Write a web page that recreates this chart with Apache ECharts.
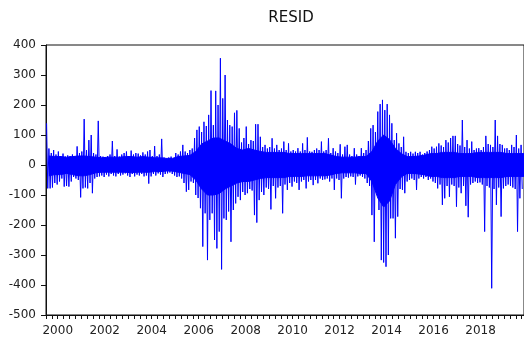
<!DOCTYPE html>
<html><head><meta charset="utf-8">
<script src="https://cdn.jsdelivr.net/npm/echarts@6/dist/echarts.min.js"></script>
<style>html,body{margin:0;padding:0;background:#fff}#c{width:524px;height:343px}</style>
</head><body><div id="c"></div>
<script>
const chartTitle = "RESID";
const yMin = -500, yMax = 400, yStep = 100;
const yearLabels = [2000, 2002, 2004, 2006, 2008, 2010, 2012, 2014, 2016, 2018];
// observations grouped into periods of 0.1 year starting at 2000.0
const periodStart = 2000.0;
const periodWidth = 0.1;
// highest residual per period
const highs = [
139,55,40,50,35,45,30,38,28,32,30,35,28,62,40,45,153,50,83,100,
40,35,147,30,28,25,30,35,80,30,52,28,35,40,45,30,48,35,40,38,
32,42,35,45,50,30,63,30,35,87,25,22,25,28,22,40,35,45,67,45,
40,50,55,90,117,128,110,144,130,167,248,133,247,200,356,222,300,150,133,128,
174,182,122,75,90,128,70,83,80,136,136,94,60,67,55,60,89,55,67,50,
55,78,50,72,45,50,45,56,45,72,50,92,45,44,50,55,50,78,45,50,
89,40,56,45,40,69,35,61,67,35,30,56,35,30,56,40,50,80,122,133,
110,178,203,217,183,203,167,139,83,106,72,60,94,44,40,44,38,44,40,44,
35,40,45,50,61,55,61,72,65,60,83,75,90,97,97,70,65,150,60,83,
55,78,50,55,56,50,60,97,70,67,60,150,97,70,67,55,56,50,67,60,
100,55,67
];
// lowest residual per period
const lows = [
-78,-78,-75,-60,-65,-55,-45,-72,-70,-72,-55,-40,-45,-50,-108,-78,-75,-78,-60,-94,
-45,-40,-38,-35,-40,-32,-38,-30,-35,-38,-30,-35,-32,-28,-35,-40,-30,-38,-32,-35,
-30,-38,-35,-62,-38,-30,-35,-28,-32,-40,-30,-28,-25,-30,-35,-40,-38,-45,-60,-89,
-83,-55,-60,-100,-110,-144,-272,-161,-317,-183,-161,-250,-278,-222,-348,-178,-183,-155,-256,-150,
-128,-106,-117,-90,-100,-94,-80,-85,-167,-192,-117,-90,-100,-75,-80,-148,-70,-111,-75,-70,
-161,-65,-83,-60,-72,-55,-60,-83,-55,-50,-78,-55,-50,-67,-50,-61,-45,-50,-48,-45,
-55,-45,-83,-45,-50,-111,-45,-40,-42,-38,-40,-65,-38,-35,-40,-45,-60,-70,-167,-256,
-78,-150,-317,-325,-339,-300,-178,-178,-244,-172,-80,-83,-94,-55,-50,-45,-50,-83,-45,-40,
-45,-40,-50,-45,-55,-60,-78,-65,-133,-111,-70,-106,-65,-70,-139,-75,-94,-70,-136,-174,
-65,-60,-55,-60,-58,-65,-222,-70,-75,-411,-80,-133,-75,-172,-78,-70,-65,-70,-75,-80,
-222,-111,-80
];
// dense (solid) part of the residual band per quarter, from 2000Q1
const coreStart = 2000.0;
const coreWidth = 0.25;
const coreHigh = [
30,28,28,26, 28,30,30,28, 26,24,26,26, 26,28,28,26, 28,26,24,24,
22,22,28,30, 32,45,70,80, 90,90,80,70, 55,50,55,50, 45,42,42,42,
42,38,38,38, 38,38,38,38, 33,28,26,26, 26,28,28,45, 80,100,85,55,
38,28,28,30, 33,38,38,42, 42,42,38,38, 38,42,42,42, 42,42,38,38,
38,38
];
const coreLow = [
-36,-32,-32,-28, -32,-36,-36,-32, -26,-24,-24,-24, -24,-24,-26,-24, -24,-24,-22,-22,
-20,-20,-24,-28, -32,-50,-80,-100, -100,-95,-80,-70, -60,-55,-55,-50, -45,-42,-42,-42,
-42,-38,-38,-38, -36,-36,-36,-36, -33,-28,-26,-26, -26,-28,-28,-55, -110,-140,-120,-65,
-40,-28,-28,-30, -33,-38,-38,-42, -42,-42,-38,-38, -38,-42,-42,-42, -42,-42,-38,-38,
-38,-38
];

const seriesData = [];
for (let k = 0; k < highs.length; k++) {
  const t = periodStart + periodWidth * k;
  seriesData.push([t + periodWidth * 0.25, highs[k]]);
  seriesData.push([t + periodWidth * 0.75, lows[k]]);
}
const coreHiData = coreHigh.map((v, q) => [coreStart + coreWidth * (q + 0.5), v]);
const coreLoData = coreLow.map((v, q) => [coreStart + coreWidth * (q + 0.5), v]);
const quarterTicks = [];
for (let q = 0; q <= 81; q++) quarterTicks.push(2000 + q * 0.25);

const chart = echarts.init(document.getElementById('c'), null, {renderer: 'canvas'});
const font = '"DejaVu Sans", sans-serif';
const blue = '#0000ff';
const coreSeries = (data) => ({
  type: 'line', data: data, showSymbol: false, symbol: 'none', smooth: false,
  clip: true, lineStyle: {color: blue, width: 1},
  areaStyle: {color: blue, opacity: 1, origin: 0}
});
chart.setOption({
  animation: false,
  backgroundColor: '#fff',
  title: {
    text: chartTitle, left: 286, top: 6, textAlign: 'center',
    textStyle: {fontFamily: font, fontSize: 15, fontWeight: 'normal', color: '#111'}
  },
  grid: {left: 46, right: -1, top: 45, bottom: 28, show: true, borderColor: '#111', borderWidth: 1, containLabel: false},
  xAxis: {
    type: 'value', min: 2000, max: 2020.35,
    axisLine: {show: true, onZero: false, lineStyle: {color: '#111', width: 1}},
    axisTick: {show: true, inside: false, length: 4, customValues: quarterTicks, lineStyle: {color: '#111'}},
    axisLabel: {
      customValues: yearLabels.map(y => y + 0.5),
      formatter: v => String(Math.round(v - 0.5)),
      fontFamily: font, fontSize: 12, color: '#222', margin: 10
    },
    splitLine: {show: false}
  },
  yAxis: {
    type: 'value', min: yMin, max: yMax, interval: yStep,
    axisLine: {show: true, onZero: false, lineStyle: {color: '#111', width: 1}},
    axisTick: {show: true, inside: false, length: 5, lineStyle: {color: '#111'}},
    axisLabel: {fontFamily: font, fontSize: 12, color: '#222', margin: 10},
    splitLine: {show: false}
  },
  series: [
    coreSeries(coreHiData),
    coreSeries(coreLoData),
    {
      type: 'line', data: seriesData, showSymbol: false, symbol: 'none',
      sampling: null, clip: true,
      lineStyle: {color: blue, width: 1}
    }
  ]
});
</script></body></html>
